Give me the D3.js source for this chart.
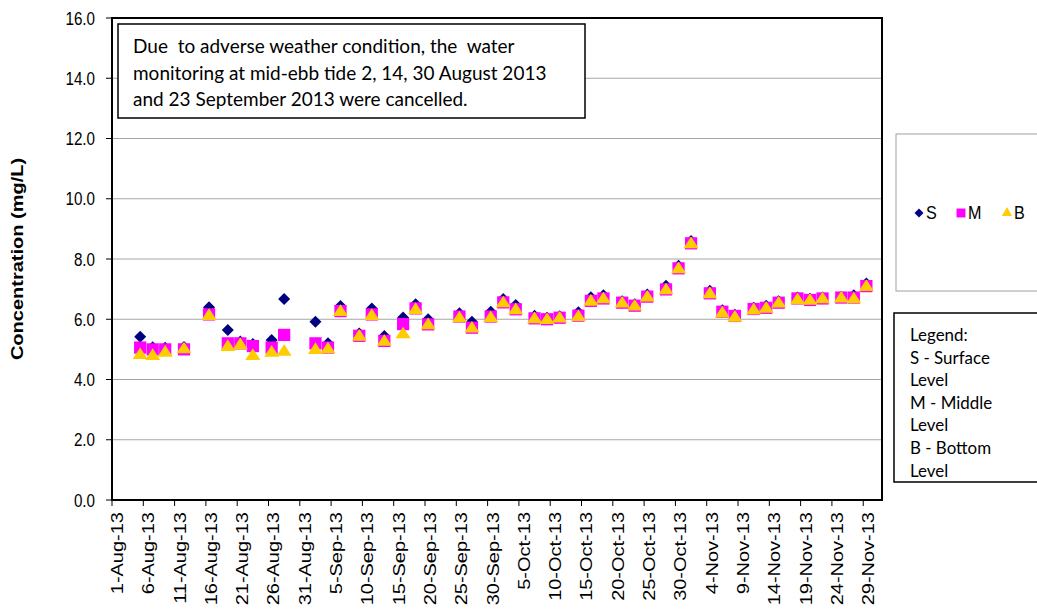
<!DOCTYPE html>
<html>
<head>
<meta charset="utf-8">
<script src="https://cdn.jsdelivr.net/npm/d3@7"></script>
<style>
  html, body { margin: 0; padding: 0; background: #fff; }
  svg { display: block; }
  text { white-space: pre; }
</style>
</head>
<body>
<svg id="chart" width="1037" height="615"></svg>
<script>
// ---- data ----
const sampleDates = ["2013-08-05","2013-08-07","2013-08-09","2013-08-12","2013-08-16","2013-08-19","2013-08-21","2013-08-23","2013-08-26","2013-08-28",
  "2013-09-02","2013-09-04","2013-09-06","2013-09-09","2013-09-11","2013-09-13","2013-09-16","2013-09-18","2013-09-20","2013-09-25","2013-09-27","2013-09-30",
  "2013-10-02","2013-10-04","2013-10-07","2013-10-09","2013-10-11","2013-10-14","2013-10-16","2013-10-18","2013-10-21","2013-10-23","2013-10-25","2013-10-28","2013-10-30",
  "2013-11-01","2013-11-04","2013-11-06","2013-11-08","2013-11-11","2013-11-13","2013-11-15","2013-11-18","2013-11-20","2013-11-22","2013-11-25","2013-11-27","2013-11-29"];
const surface = [5.42,5.07,5.05,5.08,6.40,5.64,5.26,5.18,5.31,6.67,
  5.92,5.20,6.44,5.53,6.36,5.44,6.06,6.50,6.00,6.20,5.92,6.25,
  6.67,6.47,6.12,6.05,6.10,6.23,6.73,6.80,6.60,6.50,6.82,7.11,7.78,
  8.60,6.95,6.30,6.15,6.38,6.45,6.60,6.72,6.68,6.72,6.75,6.80,7.19];
const middle = [5.06,5.00,5.00,5.00,6.16,5.20,5.20,5.11,5.06,5.48,
  5.20,5.06,6.27,5.45,6.16,5.28,5.84,6.36,5.83,6.09,5.72,6.09,
  6.56,6.33,6.03,6.00,6.05,6.12,6.61,6.69,6.55,6.45,6.75,6.99,7.69,
  8.52,6.86,6.25,6.11,6.34,6.38,6.55,6.69,6.64,6.69,6.72,6.72,7.10];
const bottom = [4.84,4.81,4.92,5.03,6.14,5.11,5.17,4.81,4.92,4.95,
  5.01,5.03,6.27,5.45,6.14,5.28,5.53,6.34,5.83,6.06,5.72,6.07,
  6.56,6.33,6.03,6.00,6.05,6.10,6.61,6.69,6.55,6.45,6.75,6.99,7.69,
  8.52,6.86,6.22,6.08,6.32,6.38,6.55,6.66,6.64,6.69,6.72,6.69,7.10];
const xTickLabels = ["1-Aug-13","6-Aug-13","11-Aug-13","16-Aug-13","21-Aug-13","26-Aug-13","31-Aug-13","5-Sep-13","10-Sep-13","15-Sep-13","20-Sep-13","25-Sep-13",
  "30-Sep-13","5-Oct-13","10-Oct-13","15-Oct-13","20-Oct-13","25-Oct-13","30-Oct-13","4-Nov-13","9-Nov-13","14-Nov-13","19-Nov-13","24-Nov-13","29-Nov-13"];
const yTicks = [0,2,4,6,8,10,12,14,16];
const seriesNames = ["S","M","B"];
const noteLines = ["Due  to adverse weather condition, the  water","monitoring at mid-ebb tide 2, 14, 30 August 2013","and 23 September 2013 were cancelled."];
const legendNoteLines = ["Legend:","S - Surface","Level","M - Middle","Level","B - Bottom","Level"];
const yTitle = "Concentration (mg/L)";

// ---- layout ----
const svg = d3.select("#chart");
const L = 112, R = 882, T = 18, B = 500;
const SX = 0.8; // horizontal squeeze of axis text
const parse = d3.timeParse("%Y-%m-%d");
const parseTick = d3.timeParse("%-d-%b-%y");
const x = d3.scaleTime().domain([new Date(2013,7,1), new Date(2013,11,2)]).range([L, R]);
const y = d3.scaleLinear().domain([0,16]).range([B, T]);
const half = 12*3600*1000;

const colors = {S:"#000080", M:"#FF00FF", B:"#FFCC00"};

// gridlines
svg.append("g").selectAll("line").data(yTicks.filter(d => d>0 && d<16)).join("line")
  .attr("x1", L).attr("x2", R).attr("y1", d=>y(d)).attr("y2", d=>y(d))
  .attr("stroke", "#a6a6a6").attr("stroke-width", 1);

// y axis ticks & labels
svg.append("g").selectAll("line").data(yTicks).join("line")
  .attr("x1", L-6).attr("x2", L).attr("y1", d=>y(d)).attr("y2", d=>y(d))
  .attr("stroke", "#000").attr("stroke-width", 1);
svg.append("g").selectAll("text").data(yTicks).join("text")
  .attr("transform", d => `translate(95,${y(d)}) scale(${SX},1)`)
  .attr("text-anchor","end").attr("dominant-baseline","central")
  .attr("font-family","'Liberation Sans', Arial, sans-serif").attr("font-size", 19)
  .text(d => d.toFixed(1));

// x axis ticks & labels
const tickDates = xTickLabels.map(s => parseTick(s));
svg.append("g").selectAll("line").data(tickDates).join("line")
  .attr("x1", d=>x(d)).attr("x2", d=>x(d)).attr("y1", B).attr("y2", B+6)
  .attr("stroke", "#000").attr("stroke-width", 1);
svg.append("g").selectAll("text").data(xTickLabels).join("text")
  .attr("transform", (s,i) => `translate(${x(tickDates[i])+5},512) scale(0.85,1) rotate(-90)`)
  .attr("text-anchor","end").attr("dominant-baseline","central")
  .attr("font-family","'Liberation Sans', Arial, sans-serif").attr("font-size", 20)
  .text(s => s);

// y title
svg.append("text")
  .attr("transform", `translate(18,259) scale(${SX},1) rotate(-90)`)
  .attr("text-anchor","middle").attr("dominant-baseline","central")
  .attr("font-family","'Liberation Sans', Arial, sans-serif").attr("font-size", 20).attr("font-weight","bold")
  .text(yTitle);

// plot border
svg.append("rect").attr("x", L).attr("y", T).attr("width", R-L).attr("height", B-T)
  .attr("fill","none").attr("stroke","#000").attr("stroke-width",2);

// markers
const pts = sampleDates.map((d,i) => ({t: new Date(+parse(d)+half), S: surface[i], M: middle[i], B: bottom[i]}));
const square = d3.symbol().type(d3.symbolSquare).size(150);
const triangle = d3.symbol().type(d3.symbolTriangle).size(78);

svg.append("g").selectAll("path").data(pts).join("path")
  .attr("d", d3.symbol().type(d3.symbolSquare).size(72))
  .attr("transform", d => `translate(${x(d.t)},${y(d.S)}) rotate(45)`)
  .attr("fill", colors.S);
svg.append("g").selectAll("path").data(pts).join("path")
  .attr("d", square)
  .attr("transform", d => `translate(${x(d.t)},${y(d.M)})`)
  .attr("fill", colors.M);
svg.append("g").selectAll("path").data(pts).join("path")
  .attr("d", triangle)
  .attr("transform", d => `translate(${x(d.t)},${y(d.B)+1}) scale(1.12,1)`)
  .attr("fill", colors.B);

// note box
svg.append("rect").attr("x",118).attr("y",24).attr("width",467).attr("height",94)
  .attr("fill","#fff").attr("stroke","#000").attr("stroke-width",1.5);
svg.append("g").selectAll("text").data(noteLines).join("text")
  .attr("transform", (s,i) => `translate(133,${53+i*26.5}) scale(0.95,1)`)
  .attr("font-family","Lato, 'Open Sans', sans-serif").attr("font-size", 20)
  .text(s => s);

// series legend box
svg.append("rect").attr("x",896).attr("y",134).attr("width",200).attr("height",157)
  .attr("fill","#fff").attr("stroke","#a0a0a0").attr("stroke-width",1);
const legX = [919, 961, 1007];
const legSym = [d3.symbol().type(d3.symbolSquare).size(40), d3.symbol().type(d3.symbolSquare).size(80), d3.symbol().type(d3.symbolTriangle).size(45)];
seriesNames.forEach((n,i) => {
  svg.append("path").attr("d", legSym[i])
    .attr("transform", `translate(${legX[i]},213)` + (i===0 ? " rotate(45)" : ""))
    .attr("fill", colors[n]);
  svg.append("text").attr("transform", `translate(${legX[i]+7},213) scale(0.85,1)`)
    .attr("dominant-baseline","central")
    .attr("font-family","'Liberation Sans', Arial, sans-serif").attr("font-size", 19)
    .text(n);
});

// description legend box
svg.append("rect").attr("x",894).attr("y",313).attr("width",200).attr("height",169)
  .attr("fill","#fff").attr("stroke","#000").attr("stroke-width",1.5);
svg.append("g").selectAll("text").data(legendNoteLines).join("text")
  .attr("transform", (s,i) => `translate(910,${341+i*22.6}) scale(0.94,1)`)
  .attr("font-family","Lato, 'Open Sans', sans-serif").attr("font-size", 18)
  .text(s => s);
</script>
</body>
</html>
